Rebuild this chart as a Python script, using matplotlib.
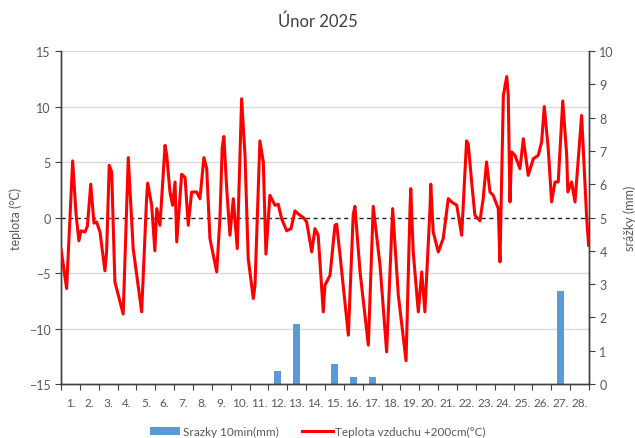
import matplotlib
matplotlib.use("Agg")
import matplotlib.pyplot as plt
import numpy as np
from matplotlib.patches import Patch
from matplotlib.lines import Line2D

plt.rcParams['font.family'] = ['Lato', 'DejaVu Sans']

# time in days since 1 Feb 00:00, temperature at 200 cm (°C)
t_days = [0.00, 0.30, 0.62, 0.80, 0.95, 1.06, 1.27, 1.40, 1.58, 1.75, 1.89, 2.07,
          2.33, 2.42, 2.56, 2.69, 2.86, 3.30, 3.57, 3.83, 4.28, 4.54, 4.60, 4.81,
          4.98, 5.08, 5.25, 5.52, 5.61, 5.78, 5.92, 6.05, 6.14, 6.40, 6.58, 6.75,
          6.93, 7.20, 7.37, 7.58, 7.73, 7.90, 8.26, 8.43, 8.55, 8.64, 8.79, 8.96,
          9.14, 9.35, 9.58, 9.76, 9.93, 10.20, 10.29, 10.55, 10.73, 10.87, 11.08,
          11.35, 11.52, 11.70, 11.97, 12.20, 12.41, 12.60, 12.85, 13.03, 13.30,
          13.47, 13.64, 13.91, 14.00, 14.27, 14.53, 14.62, 14.80, 15.24, 15.50,
          15.59, 15.86, 16.30, 16.56, 16.92, 17.27, 17.59, 17.89, 18.30, 18.51,
          18.55, 18.68, 18.95, 19.13, 19.30, 19.57, 19.61, 19.74, 20.01, 20.27,
          20.54, 20.72, 20.99, 21.25, 21.51, 21.60, 21.78, 21.95, 22.22, 22.39,
          22.57, 22.75, 22.92, 23.19, 23.28, 23.46, 23.64, 23.72, 23.81, 23.90,
          24.08, 24.34, 24.52, 24.78, 25.05, 25.31, 25.49, 25.63, 25.84, 26.02,
          26.20, 26.37, 26.61, 26.82, 26.88, 27.08, 27.26, 27.61, 27.79, 27.88,
          27.98]
temp = [-2.8, -6.4, 5.1, 0.3, -2.1, -1.2, -1.3, -0.8, 3.0, -0.5, -0.4, -1.3,
        -4.8, -3.1, 4.7, 4.1, -5.8, -8.7, 5.4, -2.8, -8.5, 1.7, 3.1, 1.1,
        -3.0, 0.8, -0.7, 6.5, 5.6, 2.3, 1.1, 3.2, -2.2, 3.9, 3.6, -0.7,
        2.3, 2.3, 1.7, 5.4, 4.4, -1.9, -4.9, -0.1, 6.3, 7.3, 2.6, -1.6,
        1.7, -2.8, 10.7, 5.6, -3.7, -7.3, -6.1, 6.9, 5.0, -3.3, 2.0,
        1.1, 1.2, -0.1, -1.2, -1.0, 0.6, 0.3, 0.0, -0.4, -3.1,
        -1.0, -1.6, -8.5, -6.1, -5.2, -0.7, -0.6, -3.4, -10.6, 0.3,
        1.0, -4.9, -11.5, 1.0, -4.3, -12.1, 0.8, -7.0, -12.9, 0.8,
        2.6, -3.1, -8.5, -4.9, -8.5, 0.8, 3.0, -1.3, -3.1, -1.9,
        1.7, 1.4, 1.1, -1.6, 6.9, 6.6, 3.2, 0.2, -0.3, 1.7,
        5.0, 2.3, 2.0, 0.8, -4.0, 11.0, 12.7, 11.0, 1.4, 5.9,
        5.6, 4.4, 7.1, 3.8, 5.3, 5.6, 6.8, 10.0, 6.2, 1.4,
        3.2, 3.2, 10.5, 5.6, 2.3, 3.2, 1.4, 9.2, 2.9, -0.1,
        -2.5]

# daily 10-min precipitation sums shown as bars (mm)
days = list(range(1, 29))
rain = [0, 0, 0, 0, 0, 0, 0, 0, 0, 0, 0, 0.4, 1.8, 0, 0.6, 0.2, 0.2,
        0, 0, 0, 0, 0, 0, 0, 0, 0, 2.8, 0]
day_labels = [f"{d}." for d in days]

GRAY = '#595959'

fig = plt.figure(figsize=(6.35, 4.39), dpi=100)
ax2 = fig.add_axes([0.096, 0.123, 0.8315, 0.7585])
ax = ax2.twinx()
# line axis on top of the bars
ax.set_zorder(ax2.get_zorder() + 1)
ax.patch.set_visible(False)

# precipitation on the right axis
ax2.set_ylim(0, 10)
for g in [10 / 6 * k for k in (1, 2, 4, 5, 6)]:
    ax2.axhline(g, color='#d9d9d9', lw=0.9, zorder=0)
ax2.bar(np.array(days) - 0.5, rain, width=0.38, color='#5b9bd5', zorder=2)
ax2.yaxis.tick_right()
ax2.yaxis.set_label_position('right')
ax2.set_yticks(range(0, 11))
ax2.set_ylabel('srážky (mm)', color=GRAY, fontsize=9)
ax2.yaxis.set_label_coords(1.066, 0.5)

# temperature on the left axis
ax.yaxis.tick_left()
ax.yaxis.set_label_position('left')
ax.set_ylim(-15, 15)
ax.set_yticks(range(-15, 16, 5))
ax.axhline(0, color='#222222', lw=1.0, ls=(0, (3, 2.5)), zorder=1)
ax.plot(t_days, temp, color='#ff0000', lw=2.2, zorder=3, solid_joinstyle='round')
ax.set_ylabel('teplota (°C)', color=GRAY, fontsize=9)
ax.yaxis.set_label_coords(-0.074, 0.5)

ax2.set_xlim(0, 28)
ax.set_xlim(0, 28)
ax2.set_xticks(range(0, 29))
ax2.set_xticklabels([])
ax2.set_xticks(np.arange(0.5, 28, 1), minor=True)
ax2.set_xticklabels(day_labels, minor=True)
ax2.tick_params(axis='x', which='minor', length=0, pad=9, labelsize=8.5, labelcolor=GRAY)
ax2.tick_params(axis='x', which='major', length=4, direction='out', color='#404040')
ax2.tick_params(axis='y', length=4, labelsize=9, labelcolor=GRAY, color='#404040')
ax.tick_params(axis='y', length=4, labelsize=9, labelcolor=GRAY, color='#404040')

for a in (ax, ax2):
    a.spines['top'].set_visible(False)
    for s in ('left', 'right', 'bottom'):
        a.spines[s].set_color('#404040')
        a.spines[s].set_linewidth(1.0)

fig.suptitle('Únor 2025', x=0.5, y=0.97, fontsize=12, color='#404040')

handles = [Patch(facecolor='#5b9bd5', edgecolor='none'),
           Line2D([0], [0], color='#ff0000', lw=2.2)]
fig.legend(handles, ['Srazky 10min(mm)', 'Teplota vzduchu +200cm(°C)'],
           loc='center', bbox_to_anchor=(0.5, 0.015), ncol=2, frameon=False,
           fontsize=8.5, labelcolor=GRAY, handlelength=2.6, handleheight=0.6,
           handletextpad=0.2, columnspacing=2.0)

fig.savefig('out.png', dpi=100)
